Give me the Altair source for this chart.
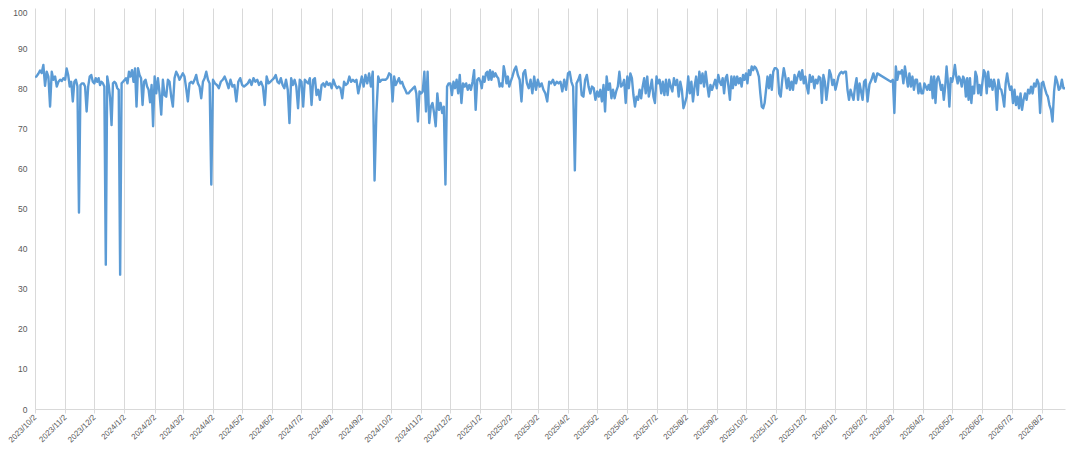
import altair as alt
import pandas as pd

# ---- data (monthly chunks, values evenly spread in each month) ----
m202310 = [82.7, 83.0, 83.6, 84.4, 83.8, 85.8, 80.6, 84.1, 82.9, 75.4, 84.1, 82.1, 82.9, 80.4, 81.6, 82.1, 81.8, 82.5]
m202311 = [82.1, 84.9, 83.3, 80.4, 81.6, 76.7, 81.6, 82.1, 80.5, 49.0, 80.8, 81.2, 81.2, 80.4, 74.2, 80.4, 82.9, 83.3, 81.6]
m202312 = [81.2, 82.5, 81.6, 82.5, 80.8, 81.6, 81.2, 80.4, 36.0, 82.9, 80.8, 77.5, 70.8, 81.2, 81.6, 81.2, 80.0, 79.6, 33.5, 81.2, 81.6]
m202401 = [82.0, 82.5, 81.2, 84.1, 82.9, 84.5, 81.6, 84.9, 75.4, 85.0, 83.3, 82.5, 75.8, 81.6, 82.1, 80.4, 79.6, 76.5, 80.8, 70.5]
m202402 = [82.9, 78.7, 82.5, 78.7, 73.4, 82.1, 78.3, 77.9, 82.1, 81.6, 77.9, 75.4, 82.5, 84.1, 83.3, 82.1, 82.9]
m202403 = [83.7, 82.9, 80.0, 76.7, 81.2, 81.6, 81.2, 82.1, 83.3, 81.2, 80.4, 77.5, 81.6, 82.5, 84.1, 82.1, 81.2, 56.0]
m202404 = [82.1, 81.2, 80.8, 80.0, 81.6, 82.1, 82.9, 81.6, 80.0, 82.1, 80.4, 80.8, 76.7, 81.6, 82.5]
m202405 = [80.8, 80.4, 80.8, 81.2, 82.1, 80.8, 82.5, 81.6, 82.1, 80.8, 81.6, 80.4, 75.8, 82.9, 81.2, 81.6]
m202406 = [82.1, 82.5, 83.3, 81.6, 81.2, 82.5, 80.8, 80.0, 82.1, 79.6, 71.3, 82.5, 80.8, 82.1, 80.4, 75.0, 82.1]
m202407 = [81.6, 75.4, 82.1, 81.6, 81.2, 82.5, 75.8, 82.1, 82.5, 78.3, 79.6, 77.1, 80.8, 81.2, 80.4, 81.6, 80.8, 81.2]
m202408 = [80.0, 82.1, 80.8, 80.0, 80.4, 80.0, 77.5, 81.6, 80.8, 81.2, 82.9, 81.6, 82.1, 81.6, 82.1, 78.7, 80.8]
m202409 = [82.9, 80.4, 83.3, 81.2, 83.7, 80.4, 84.1, 57.0, 73.8, 82.9, 81.6, 82.1, 82.1, 82.1, 82.5, 83.7]
m202410 = [83.3, 76.7, 82.9, 80.8, 81.6, 82.5, 81.2, 81.6, 80.4, 79.6, 78.7, 78.7, 79.2, 79.6, 80.0, 80.4, 78.7, 71.7, 79.2]
m202411 = [78.7, 79.2, 84.1, 74.2, 84.1, 71.3, 75.4, 76.3, 73.8, 70.5, 78.7, 74.6, 76.3, 73.8, 75.4, 56.0, 80.4, 81.2]
m202412 = [81.2, 78.3, 81.6, 80.0, 82.1, 78.7, 83.3, 76.3, 81.2, 80.4, 81.2, 79.6, 80.8, 79.6, 81.6, 84.5, 74.6, 82.1, 82.5]
m202501 = [81.6, 80.0, 82.9, 81.6, 83.7, 84.1, 82.1, 84.5, 82.1, 84.1, 82.9, 83.7, 82.9, 82.5, 80.4, 81.2, 80.4, 85.5, 83.7, 81.2, 82.9, 80.4]
m202502 = [81.6, 82.9, 84.5, 85.4, 83.3, 82.1, 76.7, 83.7, 84.5, 81.2, 80.0, 82.1, 78.7, 82.9, 79.6]
m202503 = [82.1, 80.4, 81.2, 79.6, 78.7, 76.7, 81.6, 81.2, 82.1, 80.8, 81.6, 81.2, 81.6, 79.2, 82.1, 79.6]
m202504 = [83.7, 84.1, 81.6, 80.4, 59.5, 81.2, 82.1, 83.3, 78.3, 77.9, 82.1, 83.3, 80.4, 78.7, 80.4, 80.0, 77.1]
m202505 = [79.2, 77.9, 79.6, 76.7, 80.8, 74.2, 82.9, 79.6, 81.2, 77.5, 79.6, 77.5, 79.2, 80.4, 84.1, 80.4, 80.8, 82.1, 76.3]
m202506 = [82.9, 80.0, 83.7, 82.5, 78.3, 75.4, 77.9, 77.1, 79.6, 77.5, 80.4, 82.5, 78.7, 82.9, 77.9, 80.0, 82.1, 77.9, 76.3]
m202507 = [82.9, 81.2, 82.1, 78.7, 81.6, 78.3, 82.1, 78.3, 82.1, 80.4, 79.2, 82.5, 80.8, 82.1, 77.9, 81.6, 79.6, 75.0, 76.3]
m202508 = [77.9, 82.9, 78.7, 81.6, 76.7, 80.4, 82.9, 78.3, 84.1, 81.2, 83.7, 80.4, 84.1, 80.8, 77.9, 80.8, 79.6, 80.8, 82.1]
m202509 = [80.0, 83.3, 81.6, 80.8, 82.5, 78.7, 82.5, 83.3, 80.4, 77.1, 82.9, 80.0, 82.9, 80.8, 82.9, 81.2, 82.5, 80.4, 83.3, 82.1]
m202510 = [83.7, 81.2, 84.5, 83.3, 85.4, 84.5, 85.4, 85.0, 84.1, 82.9, 78.7, 75.4, 75.0, 76.3, 79.6, 82.9, 80.0, 83.3, 79.6, 84.1, 85.0]
m202511 = [85.0, 84.5, 78.7, 77.9, 82.1, 85.0, 82.9, 80.0, 82.5, 79.6, 81.6, 79.6, 83.3, 81.2, 82.9, 84.1, 82.1, 84.5, 81.2]
m202512 = [82.9, 80.4, 78.7, 83.3, 81.6, 82.9, 80.0, 82.1, 81.2, 82.9, 82.5, 76.3, 83.3, 81.6, 77.1, 80.4, 84.5, 83.3, 80.8, 82.1]
m202601 = [79.6, 81.2, 82.9, 83.7, 84.1, 83.7, 84.1, 84.1, 79.6, 77.1, 79.6, 78.3, 77.1, 80.4, 82.5, 77.1, 81.2, 79.2, 77.1, 81.6]
m202602 = [82.1, 76.7, 81.0, 82.1, 83.7, 81.6, 83.7, None, None, None, None, None, None, 81.6]
m202603 = [82.1, 73.8, 85.4, 82.1, 84.1, 83.7, 84.5, 81.2, 85.4, 82.9, 80.4, 83.7, 80.4, 82.9, 79.6, 82.1, 82.1, 78.7, 81.2, 78.7]
m202604 = [78.7, 81.2, 80.4, 79.6, 80.8, 79.6, 82.9, 77.5, 82.9, 76.3, 82.1, 82.9, 81.6, 79.6, 80.8, 77.1, 80.4, 85.4, 81.2, 75.4, 82.5]
m202605 = [81.6, 83.3, 85.8, 82.9, 81.2, 82.9, 82.1, 80.4, 82.9, 82.1, 77.9, 82.5, 77.1, 82.5, 76.3, 80.4, 78.7, 84.1, 82.9, 78.7, 80.8, 78.3]
m202606 = [81.2, 84.5, 83.7, 78.7, 84.1, 80.4, 82.1, 79.6, 82.1, 80.4, 74.6, 82.1, 80.0, 79.6, 77.9, 75.4, 81.2, 83.7, 81.2, 79.6]
m202607 = [80.4, 76.3, 79.6, 75.8, 77.9, 75.0, 78.7, 74.6, 77.1, 78.7, 77.1, 79.6, 78.7, 80.4, 78.7, 81.2, 80.4, 82.1, 81.2, 73.8]
m202608 = [81.2, 81.6, 80.0, 78.7, 77.9, 75.8, 74.6, 71.7, 79.2, 82.9, 81.6, 79.6, 80.0, 82.1, 80.0, 80.0]

month_starts = [
    "2023-10-02", "2023-11-02", "2023-12-02",
    "2024-01-02", "2024-02-02", "2024-03-02", "2024-04-02", "2024-05-02", "2024-06-02",
    "2024-07-02", "2024-08-02", "2024-09-02", "2024-10-02", "2024-11-02", "2024-12-02",
    "2025-01-02", "2025-02-02", "2025-03-02", "2025-04-02", "2025-05-02", "2025-06-02",
    "2025-07-02", "2025-08-02", "2025-09-02", "2025-10-02", "2025-11-02", "2025-12-02",
    "2026-01-02", "2026-02-02", "2026-03-02", "2026-04-02", "2026-05-02", "2026-06-02",
    "2026-07-02", "2026-08-02",
]
last_date = "2026-08-26"
month_values = [
    m202310, m202311, m202312,
    m202401, m202402, m202403, m202404, m202405, m202406,
    m202407, m202408, m202409, m202410, m202411, m202412,
    m202501, m202502, m202503, m202504, m202505, m202506,
    m202507, m202508, m202509, m202510, m202511, m202512,
    m202601, m202602, m202603, m202604, m202605, m202606,
    m202607, m202608,
]
y_ticks = [0, 10, 20, 30, 40, 50, 60, 70, 80, 90, 100]

rows = []
for k, vals in enumerate(month_values):
    start = pd.Timestamp(month_starts[k])
    n = len(vals)
    if k + 1 < len(month_starts):
        step = (pd.Timestamp(month_starts[k + 1]) - start) / n
    else:
        step = (pd.Timestamp(last_date) - start) / (n - 1)
    for i, v in enumerate(vals):
        if v is None:
            continue
        rows.append({"date": (start + step * i).floor("h"), "value": v})
df = pd.DataFrame(rows)

tick_values = [alt.DateTime(year=t.year, month=t.month, date=t.day)
               for t in (pd.Timestamp(s) for s in month_starts)]

FONT = "Liberation Sans"
LABEL = "#595959"
GRID = "#d9d9d9"

chart = alt.Chart(df).mark_line(
    color="#5B9BD5", strokeWidth=2.4, strokeJoin="round", clip=True
).encode(
    x=alt.X(
        "date:T",
        scale=alt.Scale(domain=[alt.DateTime(year=2023, month=10, date=2),
                                alt.DateTime(year=2026, month=8, date=26)]),
        axis=alt.Axis(
            values=tick_values,
            format="%Y/%-m/%-d",
            title=None,
            labelAngle=-45,
            labelAlign="right",
            labelBaseline="middle",
            labelOverlap=False,
            labelFlush=False,
            labelFont=FONT,
            labelFontSize=8,
            labelColor=LABEL,
            labelPadding=3,
            grid=True,
            gridColor=GRID,
            gridWidth=1,
            domainColor=GRID,
            tickColor=GRID,
            tickSize=4,
        ),
    ),
    y=alt.Y(
        "value:Q",
        scale=alt.Scale(domain=[0, 100], nice=False),
        axis=alt.Axis(
            values=y_ticks,
            title=None,
            grid=False,
            domain=False,
            ticks=False,
            labelFont=FONT,
            labelFontSize=8.5,
            labelColor=LABEL,
            labelPadding=8,
            labelBaseline={"condition": {"test": "datum.value == 100", "value": "top"},
                           "value": "middle"},
        ),
    ),
).properties(
    width=1030,
    height=401,
    autosize=alt.AutoSizeParams(type="none"),
    padding={"left": 27, "top": 0, "right": 4, "bottom": 40},
    background="white",
).configure_view(stroke=None)

chart.save("out.html", embed_options={"renderer": "svg", "actions": False})
